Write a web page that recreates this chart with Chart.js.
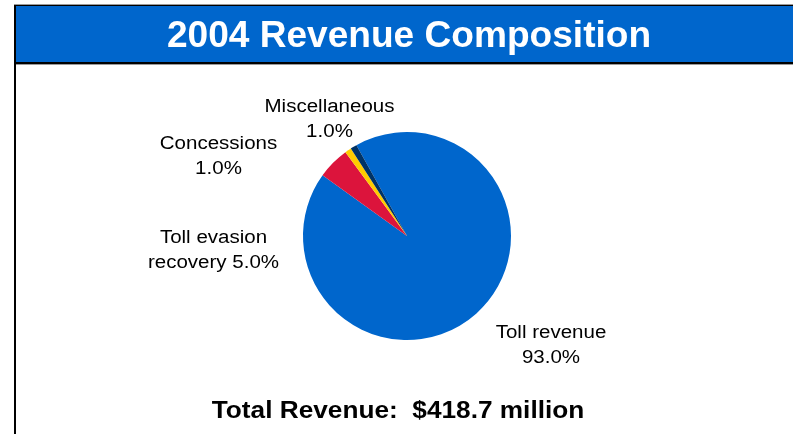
<!DOCTYPE html>
<html>
<head>
<meta charset="utf-8">
<script src="https://cdn.jsdelivr.net/npm/chart.js@4.4.1/dist/chart.umd.min.js"></script>
<style>
  html, body { margin: 0; padding: 0; background: #fff; }
  #page { position: relative; width: 793px; height: 434px; overflow: hidden; }
  .rule { position: absolute; }
  #chart { position: absolute; left: 0; top: 0; }
</style>
</head>
<body>
<div id="page">
  <!-- header band and left frame line -->
  <div class="rule" style="left:14px; top:4px; width:779px; height:1px; background:#9a9a9a;"></div>
  <div class="rule" style="left:14px; top:5px; width:779px; height:1px; background:#000;"></div>
  <div class="rule" style="left:16px; top:6px; width:777px; height:56px; background:#0066cc;"></div>
  <div class="rule" style="left:14px; top:62px; width:779px; height:2px; background:#000;"></div>
  <div class="rule" style="left:16px; top:64px; width:777px; height:1px; background:#9a9a9a;"></div>
  <div class="rule" style="left:14px; top:5px; width:2px; height:429px; background:#000;"></div>
  <canvas id="chart" width="793" height="434"></canvas>
</div>
<script>
const categories = ['Toll revenue', 'Toll evasion recovery', 'Concessions', 'Miscellaneous'];
const shares = [93.0, 5.0, 1.0, 1.0];
const sliceColors = ['#0066cc', '#dc143c', '#ffcc00', '#003366'];
const titleText = '2004 Revenue Composition';
const totalText = 'Total Revenue:  $418.7 million';

// label lines per slice, with anchor (centre x, first baseline) relative to pie centre
const labelLines = [
  ['Toll revenue', '93.0%'],
  ['Toll evasion', 'recovery 5.0%'],
  ['Concessions', '1.0%'],
  ['Miscellaneous', '1.0%'],
];
const labelAnchors = [[144, 102], [-193.5, 6.5], [-188.5, -87], [-77.5, -124.5]];

function stretchedText(ctx, text, x, y, sx) {
  ctx.save();
  ctx.translate(x, y);
  ctx.scale(sx, 1);
  ctx.fillText(text, 0, 0);
  ctx.restore();
}

const textPlugin = {
  id: 'slideText',
  afterDraw(chart) {
    const ctx = chart.ctx;
    const arc = chart.getDatasetMeta(0).data[0];
    const cx = arc.x, cy = arc.y;
    ctx.save();
    ctx.textAlign = 'center';
    ctx.textBaseline = 'alphabetic';

    ctx.fillStyle = '#ffffff';
    ctx.font = 'bold 36px "Liberation Sans", Arial, sans-serif';
    stretchedText(ctx, titleText, 409, 46.5, 1.03);

    ctx.fillStyle = '#000000';
    ctx.font = '18px "Liberation Sans", Arial, sans-serif';
    labelLines.forEach((lines, i) => {
      const [dx, dy] = labelAnchors[i];
      lines.forEach((line, j) => {
        stretchedText(ctx, line, cx + dx, cy + dy + j * 25, 1.14);
      });
    });

    ctx.font = 'bold 23px "Liberation Sans", Arial, sans-serif';
    stretchedText(ctx, totalText, 398, 418, 1.14);
    ctx.restore();
  }
};

new Chart(document.getElementById('chart'), {
  type: 'pie',
  data: {
    labels: categories,
    datasets: [{
      data: shares,
      backgroundColor: sliceColors,
      borderWidth: 0,
    }],
  },
  options: {
    responsive: false,
    animation: false,
    rotation: -29.1,
    layout: { padding: { left: 303, right: 282, top: 132, bottom: 94 } },
    plugins: {
      legend: { display: false },
      tooltip: { enabled: false },
    },
  },
  plugins: [textPlugin],
});
</script>
</body>
</html>
